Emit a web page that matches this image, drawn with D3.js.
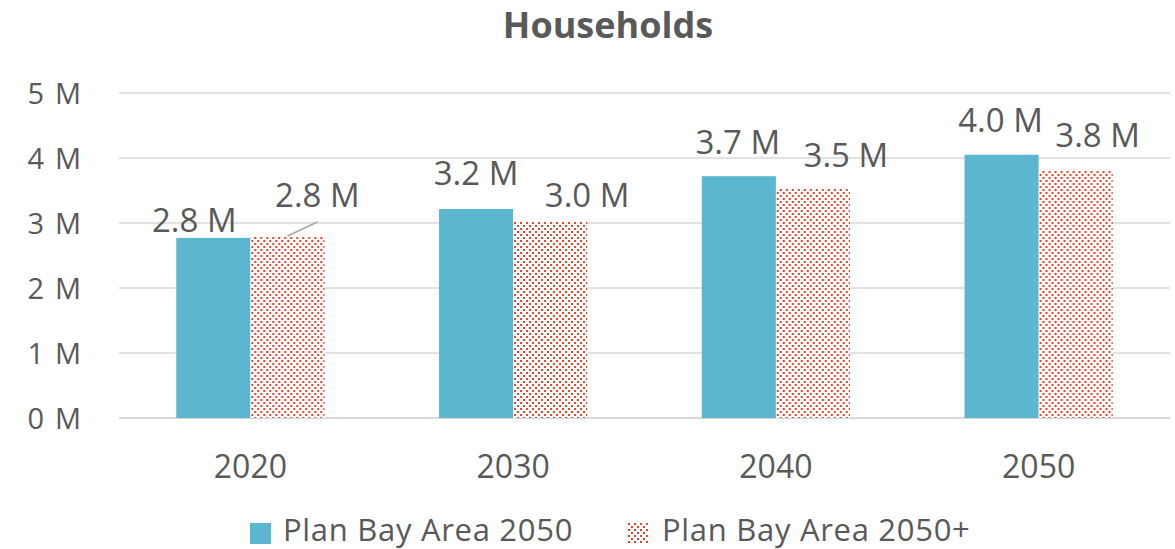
<!DOCTYPE html>
<html>
<head>
<meta charset="utf-8">
<script src="https://cdn.jsdelivr.net/npm/d3@7"></script>
<style>
  body { margin: 0; background: #fff; }
  text { font-family: "Open Sans", sans-serif; fill: #595959; }
</style>
</head>
<body>
<div id="chart"></div>
<script>
var years = ["2020", "2030", "2040", "2050"];
var seriesNames = ["Plan Bay Area 2050", "Plan Bay Area 2050+"];
var plan2050 = [2.77, 3.215, 3.72, 4.05];
var plan2050plus = [2.8, 3.03, 3.54, 3.8];
var labels2050 = ["2.8 M", "3.2 M", "3.7 M", "4.0 M"];
var labels2050plus = ["2.8 M", "3.0 M", "3.5 M", "3.8 M"];
var yTicks = [0, 1, 2, 3, 4, 5];

var svgWidth = 1175;
var svgHeight = 549;
var margin = { top: 93, right: 5, bottom: 131, left: 119 };
var width = svgWidth - margin.left - margin.right;
var height = svgHeight - margin.top - margin.bottom;

var svg = d3.select("#chart").append("svg")
  .attr("width", svgWidth)
  .attr("height", svgHeight);

// dotted fill for the second series
var pat = svg.append("defs").append("pattern")
  .attr("id", "dots")
  .attr("patternUnits", "userSpaceOnUse")
  .attr("width", 6)
  .attr("height", 6);
pat.append("rect").attr("width", 6).attr("height", 6).attr("fill", "#fff");
pat.append("rect").attr("x", 0).attr("y", 0).attr("width", 2).attr("height", 2).attr("fill", "#e5442b");
pat.append("rect").attr("x", 3).attr("y", 3).attr("width", 2).attr("height", 2).attr("fill", "#e5442b");

var chartGroup = svg.append("g")
  .attr("transform", `translate(${margin.left}, ${margin.top})`);

var x0 = d3.scaleBand().domain(years).range([0, width]).paddingInner(0.436).paddingOuter(0.218);
var x1 = d3.scaleBand().domain([0, 1]).range([0, x0.bandwidth()]);
var y = d3.scaleLinear().domain([0, 5]).range([height, 0]);

// gridlines
chartGroup.append("g")
  .selectAll("line")
  .data(yTicks)
  .enter()
  .append("line")
  .attr("x1", 0)
  .attr("x2", width)
  .attr("y1", d => y(d))
  .attr("y2", d => y(d))
  .attr("stroke", "#d9d9d9")
  .attr("stroke-width", d => d === 0 ? 2 : 1.3);

// y axis labels
var leftAxis = d3.axisLeft(y).tickValues(yTicks).tickFormat(d => d + " M").tickSize(0).tickPadding(36);
var yAxisG = chartGroup.append("g").call(leftAxis);
yAxisG.select(".domain").remove();
yAxisG.selectAll("text")
  .style("font-size", "29px")
  .style("letter-spacing", "1.8px")
  .style("font-family", "Open Sans, sans-serif")
  .attr("fill", "#595959")
  .attr("dy", "0.36em");

// x axis labels
var bottomAxis = d3.axisBottom(x0).tickSize(0).tickPadding(37);
var xAxisG = chartGroup.append("g")
  .attr("transform", `translate(0, ${height})`)
  .call(bottomAxis);
xAxisG.select(".domain").remove();
xAxisG.selectAll("text")
  .style("font-size", "32px")
  .style("font-family", "Open Sans, sans-serif")
  .attr("fill", "#595959");

var groups = chartGroup.selectAll(".year")
  .data(years)
  .enter()
  .append("g")
  .attr("transform", d => `translate(${x0(d)}, 0)`);

groups.append("rect")
  .attr("x", x1(0))
  .attr("width", x1.bandwidth())
  .attr("y", (d, i) => y(plan2050[i]))
  .attr("height", (d, i) => height - y(plan2050[i]))
  .attr("fill", "#5bb7cf");

groups.append("rect")
  .attr("x", x1(1))
  .attr("width", x1.bandwidth())
  .attr("y", (d, i) => y(plan2050plus[i]))
  .attr("height", (d, i) => height - y(plan2050plus[i]))
  .attr("fill", "url(#dots)");

// data labels, hand-nudged like the original
var baseShift = [-19, 0, -1, -1];
var baseLift = [6, 24, 22, 23];
var plusShift = [30, 37, 33, 22];
var plusLift = [29, 14, 21, 24];

groups.append("text")
  .attr("x", (d, i) => x1(0) + x1.bandwidth() / 2 + baseShift[i])
  .attr("y", (d, i) => y(plan2050[i]) - baseLift[i])
  .attr("text-anchor", "middle")
  .style("font-size", "33px")
  .text((d, i) => labels2050[i]);

groups.append("text")
  .attr("x", (d, i) => x1(1) + x1.bandwidth() / 2 + plusShift[i])
  .attr("y", (d, i) => y(plan2050plus[i]) - plusLift[i])
  .attr("text-anchor", "middle")
  .style("font-size", "33px")
  .text((d, i) => labels2050plus[i]);

// leader line for the 2020 label
var lx = x0("2020") + x1(1) + x1.bandwidth() / 2;
chartGroup.append("line")
  .attr("x1", lx)
  .attr("y1", y(plan2050plus[0]))
  .attr("x2", lx + 30)
  .attr("y2", y(plan2050plus[0]) - 14)
  .attr("stroke", "#a6a6a6")
  .attr("stroke-width", 1.5);

// title
svg.append("text")
  .attr("x", 608)
  .attr("y", 38)
  .attr("text-anchor", "middle")
  .style("font-size", "36px")
  .style("font-weight", "bold")
  .text("Households");

// legend
var legend = svg.append("g").attr("transform", "translate(250, 523)");
legend.append("rect").attr("width", 21).attr("height", 21).attr("fill", "#5bb7cf");
legend.append("text").attr("x", 33).attr("y", 18).style("font-size", "31px").style("letter-spacing", "0.7px").text(seriesNames[0]);
legend.append("rect").attr("x", 378).attr("width", 20).attr("height", 21).attr("fill", "url(#dots)");
legend.append("text").attr("x", 412).attr("y", 18).style("font-size", "31px").style("letter-spacing", "0.7px").text(seriesNames[1]);
</script>
</body>
</html>
